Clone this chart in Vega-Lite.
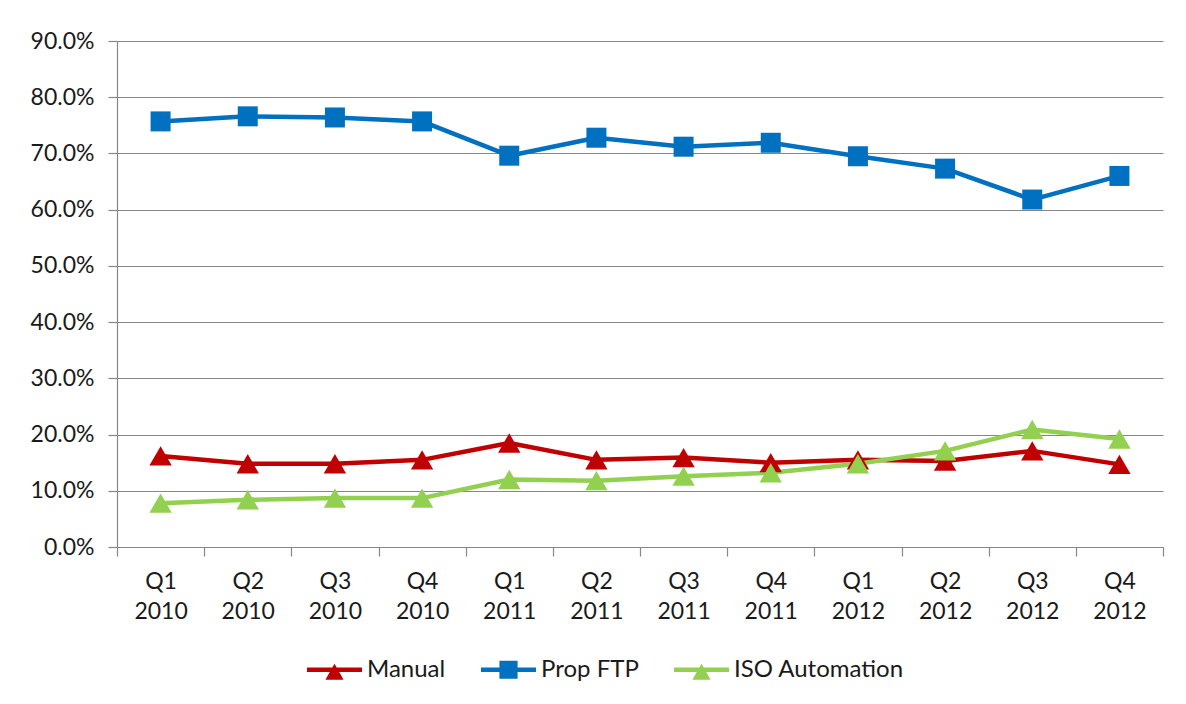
{
  "$schema": "https://vega.github.io/schema/vega-lite/v6.json",
  "width": 1046,
  "height": 506,
  "autosize": {"type": "none"},
  "padding": {"left": 117, "top": 41, "right": 23, "bottom": 157},
  "background": "white",
  "config": {
    "view": {"stroke": null},
    "font": "Lato",
    "axis": {
      "labelFont": "Lato",
      "labelFontSize": 23,
      "labelColor": "#1a1a1a",
      "domainColor": "#878787",
      "tickColor": "#878787",
      "gridColor": "#878787",
      "domainWidth": 1.2,
      "tickWidth": 1.2,
      "gridWidth": 1.2,
      "tickSize": 9,
      "title": null
    },
    "legend": {
      "labelFont": "Lato",
      "labelFontSize": 24,
      "labelColor": "#1a1a1a",
      "labelLimit": 0
    }
  },
  "data": {
    "values": [
      {"quarter": "Q1 2010", "series": "Manual", "value": 0.162},
      {"quarter": "Q2 2010", "series": "Manual", "value": 0.148},
      {"quarter": "Q3 2010", "series": "Manual", "value": 0.148},
      {"quarter": "Q4 2010", "series": "Manual", "value": 0.155},
      {"quarter": "Q1 2011", "series": "Manual", "value": 0.185},
      {"quarter": "Q2 2011", "series": "Manual", "value": 0.155},
      {"quarter": "Q3 2011", "series": "Manual", "value": 0.159},
      {"quarter": "Q4 2011", "series": "Manual", "value": 0.150},
      {"quarter": "Q1 2012", "series": "Manual", "value": 0.155},
      {"quarter": "Q2 2012", "series": "Manual", "value": 0.153},
      {"quarter": "Q3 2012", "series": "Manual", "value": 0.171},
      {"quarter": "Q4 2012", "series": "Manual", "value": 0.147},
      {"quarter": "Q1 2010", "series": "Prop FTP", "value": 0.757},
      {"quarter": "Q2 2010", "series": "Prop FTP", "value": 0.766},
      {"quarter": "Q3 2010", "series": "Prop FTP", "value": 0.764},
      {"quarter": "Q4 2010", "series": "Prop FTP", "value": 0.757},
      {"quarter": "Q1 2011", "series": "Prop FTP", "value": 0.696},
      {"quarter": "Q2 2011", "series": "Prop FTP", "value": 0.728},
      {"quarter": "Q3 2011", "series": "Prop FTP", "value": 0.712},
      {"quarter": "Q4 2011", "series": "Prop FTP", "value": 0.719},
      {"quarter": "Q1 2012", "series": "Prop FTP", "value": 0.695},
      {"quarter": "Q2 2012", "series": "Prop FTP", "value": 0.673},
      {"quarter": "Q3 2012", "series": "Prop FTP", "value": 0.618},
      {"quarter": "Q4 2012", "series": "Prop FTP", "value": 0.660},
      {"quarter": "Q1 2010", "series": "ISO Automation", "value": 0.078},
      {"quarter": "Q2 2010", "series": "ISO Automation", "value": 0.084},
      {"quarter": "Q3 2010", "series": "ISO Automation", "value": 0.087},
      {"quarter": "Q4 2010", "series": "ISO Automation", "value": 0.087},
      {"quarter": "Q1 2011", "series": "ISO Automation", "value": 0.120},
      {"quarter": "Q2 2011", "series": "ISO Automation", "value": 0.118},
      {"quarter": "Q3 2011", "series": "ISO Automation", "value": 0.126},
      {"quarter": "Q4 2011", "series": "ISO Automation", "value": 0.132},
      {"quarter": "Q1 2012", "series": "ISO Automation", "value": 0.148},
      {"quarter": "Q2 2012", "series": "ISO Automation", "value": 0.171},
      {"quarter": "Q3 2012", "series": "ISO Automation", "value": 0.209},
      {"quarter": "Q4 2012", "series": "ISO Automation", "value": 0.192}
    ]
  },
  "encoding": {
    "x": {
      "field": "quarter",
      "type": "ordinal",
      "sort": null,
      "bandPosition": 0.5,
      "scale": {"type": "band", "paddingInner": 0, "paddingOuter": 0},
      "axis": {
        "tickBand": "extent",
        "labelAngle": 0,
        "labelExpr": "split(datum.label, ' ')",
        "labelLineHeight": 30,
        "labelPadding": 14,
        "labelBaseline": "top",
        "grid": false
      }
    },
    "y": {
      "field": "value",
      "type": "quantitative",
      "scale": {"domain": [0, 0.9], "nice": false, "zero": true},
      "axis": {
        "values": [0, 0.1, 0.2, 0.3, 0.4, 0.5, 0.6, 0.7, 0.8, 0.9],
        "format": ".1%",
        "grid": true,
        "labelPadding": 14
      }
    }
  },
  "layer": [
    {
      "mark": {"type": "line", "strokeWidth": 4.5, "strokeJoin": "round", "strokeCap": "round"},
      "encoding": {
        "color": {
          "field": "series",
          "type": "nominal",
          "scale": {"domain": ["Manual", "Prop FTP", "ISO Automation"], "range": ["#C00000", "#0070C0", "#92D050"]},
          "legend": null
        }
      }
    },
    {
      "transform": [{"filter": "datum.series == 'Prop FTP'"}],
      "mark": {"type": "point", "filled": true, "opacity": 1, "shape": "square", "size": 400},
      "encoding": {
        "color": {
          "field": "series",
          "type": "nominal",
          "scale": {"domain": ["Manual", "Prop FTP", "ISO Automation"], "range": ["#C00000", "#0070C0", "#92D050"]},
          "legend": null
        }
      }
    },
    {
      "transform": [{"filter": "datum.series != 'Prop FTP'"}],
      "mark": {"type": "point", "filled": true, "opacity": 1, "shape": "triangle-up", "size": 500},
      "encoding": {
        "color": {
          "field": "series",
          "type": "nominal",
          "scale": {"domain": ["Manual", "Prop FTP", "ISO Automation"], "range": ["#C00000", "#0070C0", "#92D050"]},
          "legend": null
        }
      }
    },
    {
      "transform": [{"filter": "datum.value < 0"}],
      "mark": {"type": "point", "filled": true, "opacity": 1},
      "encoding": {
        "color": {
          "field": "series",
          "type": "nominal",
          "scale": {"domain": ["Manual", "Prop FTP", "ISO Automation"], "range": ["#C00000", "#0070C0", "#92D050"]},
          "legend": {
            "orient": "none",
            "legendX": 190,
            "legendY": 601,
            "direction": "horizontal",
            "title": null,
            "symbolSize": 3025,
            "symbolStrokeWidth": 0,
            "labelOffset": 5,
            "columnPadding": 35,
            "padding": 0
          }
        },
        "shape": {
          "field": "series",
          "type": "nominal",
          "scale": {
            "domain": ["Manual", "Prop FTP", "ISO Automation"],
            "range": [
              "M-1,-0.082H-0.079L0,-0.22L0.079,-0.082H1V0.082H0.172L0.33,0.36H-0.33L-0.172,0.082H-1Z",
              "M-1,-0.082H-0.33V-0.33H0.33V-0.082H1V0.082H0.33V0.33H-0.33V0.082H-1Z",
              "M-1,-0.082H-0.079L0,-0.22L0.079,-0.082H1V0.082H0.172L0.33,0.36H-0.33L-0.172,0.082H-1Z"
            ]
          },
          "legend": {
            "orient": "none",
            "legendX": 190,
            "legendY": 601,
            "direction": "horizontal",
            "title": null,
            "symbolSize": 3025,
            "symbolStrokeWidth": 0,
            "labelOffset": 5,
            "columnPadding": 35,
            "padding": 0
          }
        }
      }
    }
  ],
  "resolve": {"legend": {"color": "independent", "shape": "independent"}}
}
